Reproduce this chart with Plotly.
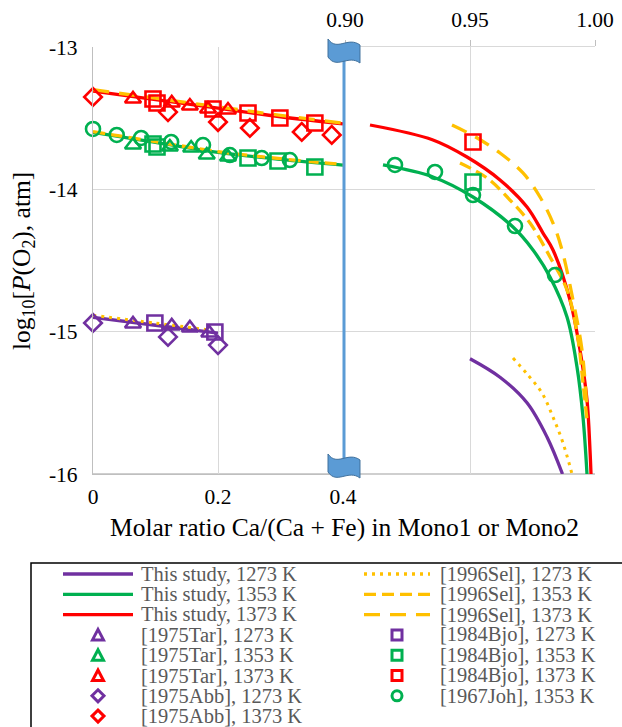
import plotly.graph_objects as go

# ---------------- data ----------------
# This study (model curves)
ts1273_xl = [0.0, 0.1, 0.2]
ts1273_yl = [-14.90, -14.955, -15.01]
ts1273_xr = [0.9500, 0.962, 0.9728, 0.9808, 0.9870]
ts1273_yr = [-15.19, -15.32, -15.50, -15.74, -16.0]

ts1353_xl = [0.0, 0.1, 0.2, 0.3, 0.4]
ts1353_yl = [-13.60, -13.67, -13.74, -13.79, -13.83]
ts1353_xr = [0.9152, 0.9352, 0.9512, 0.9672, 0.9752, 0.982, 0.9888, 0.9928, 0.9952, 0.9968]
ts1353_yr = [-13.829, -13.913, -14.054, -14.265, -14.426, -14.616, -14.897, -15.248, -15.600, -16.0]

ts1373_xl = [0.0, 0.1, 0.2, 0.3, 0.4]
ts1373_yl = [-13.31, -13.37, -13.43, -13.49, -13.54]
ts1373_xr = [0.910, 0.9352, 0.9488, 0.962, 0.9728, 0.9792, 0.9832, 0.99, 0.994, 0.9968, 0.998, 0.9984]
ts1373_yr = [-13.548, -13.653, -13.773, -13.934, -14.124, -14.307, -14.426, -14.778, -15.129, -15.480, -15.832, -16.0]

# [1996Sel] curves
sel1273_xl = [0.0, 0.1, 0.19]
sel1273_yl = [-14.885, -14.94, -14.99]
sel1273_xr = [0.9672, 0.9732, 0.9788, 0.9832, 0.9872, 0.9908]
sel1273_yr = [-15.185, -15.305, -15.431, -15.600, -15.782, -16.0]

sel1353_xl = [0.0, 0.1, 0.2, 0.3, 0.4]
sel1353_yl = [-13.595, -13.665, -13.735, -13.785, -13.825]
sel1353_xr = [0.946, 0.9568, 0.966, 0.974, 0.982, 0.9888, 0.9928, 0.9952, 0.9968]
sel1353_yr = [-13.815, -13.92, -14.075, -14.237, -14.475, -14.707, -15.009, -15.36, -15.62]

sel1373_xl = [0.0, 0.1, 0.2, 0.3, 0.4]
sel1373_yl = [-13.30, -13.36, -13.42, -13.48, -13.535]
sel1373_xr = [0.9428, 0.952, 0.962, 0.9712, 0.978, 0.9832, 0.9868, 0.9912, 0.9948, 0.9968]
sel1373_yr = [-13.548, -13.63, -13.745, -13.885, -14.054, -14.237, -14.426, -14.778, -15.129, -15.55]

# experimental points
tar1273_x = [0.064, 0.126, 0.155, 0.186]
tar1273_y = [-14.946, -14.960, -14.974, -15.009]
tar1353_x = [0.064, 0.123, 0.157, 0.182, 0.216]
tar1353_y = [-13.689, -13.703, -13.710, -13.759, -13.773]
tar1373_x = [0.064, 0.126, 0.155, 0.184, 0.216]
tar1373_y = [-13.365, -13.393, -13.415, -13.436, -13.443]

abb1273_x = [0.0, 0.12, 0.2]
abb1273_y = [-14.939, -15.037, -15.094]
abb1373_x = [0.0, 0.12, 0.2, 0.251, 0.334, 0.382]
abb1373_y = [-13.351, -13.457, -13.527, -13.569, -13.597, -13.618]

bjo1273_x = [0.099, 0.195]
bjo1273_y = [-14.939, -15.002]
bjo1353_xl = [0.096, 0.1024, 0.248, 0.296, 0.355]
bjo1353_yl = [-13.682, -13.703, -13.780, -13.801, -13.843]
bjo1353_xr = [0.9512]
bjo1353_yr = [-13.948]
bjo1373_xl = [0.096, 0.1024, 0.192, 0.248, 0.299, 0.355]
bjo1373_yl = [-13.365, -13.393, -13.436, -13.464, -13.499, -13.534]
bjo1373_xr = [0.9512]
bjo1373_yr = [-13.667]

joh1353_xl = [0.0, 0.038, 0.077, 0.125, 0.176, 0.219, 0.270, 0.315]
joh1353_yl = [-13.576, -13.618, -13.639, -13.667, -13.689, -13.759, -13.780, -13.794]
joh1353_xr = [0.92, 0.936, 0.9512, 0.968, 0.984]
joh1353_yr = [-13.829, -13.878, -14.040, -14.258, -14.602]

# axis ticks
left_ticks = [0, 0.2, 0.4]
left_ticktext = ["0", "0.2", "0.4"]
right_ticks = [0.90, 0.95, 1.00]
right_ticktext = ["0.90", "0.95", "1.00"]
y_ticks = [-13, -14, -15, -16]
y_ticktext = ["-13", "-14", "-15", "-16"]

legend_col1 = ["This study, 1273 K", "This study, 1353 K", "This study, 1373 K",
               "[1975Tar], 1273 K", "[1975Tar], 1353 K", "[1975Tar], 1373 K",
               "[1975Abb], 1273 K", "[1975Abb], 1373 K"]
legend_col2 = ["[1996Sel], 1273 K", "[1996Sel], 1353 K", "[1996Sel], 1373 K",
               "[1984Bjo], 1273 K", "[1984Bjo], 1353 K", "[1984Bjo], 1373 K",
               "[1967Joh], 1353 K"]

# ---------------- styles ----------------
PURPLE = "#7030a0"
GREEN = "#00b050"
RED = "#ff0000"
ORANGE = "#ffc000"
BLUE = "#5b9bd5"
FONT = "Liberation Serif"
DOT = "3px,5px"
SDASH = "12px,6px"
LDASH = "16px,10px"

fig = go.Figure()


def line(x, y, color, dash="solid", axis="x", width=3.3):
    fig.add_trace(go.Scatter(x=x, y=y, mode="lines", xaxis=axis, yaxis="y",
                             line=dict(color=color, width=width, dash=dash,
                                       shape="spline", smoothing=1.0),
                             hoverinfo="skip", showlegend=False))


def marks(x, y, color, symbol, axis="x", size=14):
    fig.add_trace(go.Scatter(x=x, y=y, mode="markers", xaxis=axis, yaxis="y",
                             marker=dict(symbol=symbol, size=size, color=color,
                                         line=dict(color=color, width=2.6)),
                             cliponaxis=False, hoverinfo="skip", showlegend=False))


# model curves
line(ts1273_xl, ts1273_yl, PURPLE)
line(ts1353_xl, ts1353_yl, GREEN)
line(ts1373_xl, ts1373_yl, RED)
line(ts1273_xr, ts1273_yr, PURPLE, axis="x2")
line(ts1353_xr, ts1353_yr, GREEN, axis="x2")
line(ts1373_xr, ts1373_yr, RED, axis="x2")
line(sel1273_xl, sel1273_yl, ORANGE, DOT, width=3)
line(sel1353_xl, sel1353_yl, ORANGE, SDASH)
line(sel1373_xl, sel1373_yl, ORANGE, LDASH)
line(sel1273_xr, sel1273_yr, ORANGE, DOT, axis="x2", width=3)
line(sel1353_xr, sel1353_yr, ORANGE, SDASH, axis="x2")
line(sel1373_xr, sel1373_yr, ORANGE, LDASH, axis="x2")

# points
marks(tar1273_x, tar1273_y, PURPLE, "triangle-up-open")
marks(tar1353_x, tar1353_y, GREEN, "triangle-up-open")
marks(tar1373_x, tar1373_y, RED, "triangle-up-open")
marks(abb1273_x, abb1273_y, PURPLE, "diamond-open", size=13.5)
marks(abb1373_x, abb1373_y, RED, "diamond-open", size=13.5)
marks(bjo1273_x, bjo1273_y, PURPLE, "square-open", size=15)
marks(bjo1353_xl, bjo1353_yl, GREEN, "square-open", size=15)
marks(bjo1373_xl, bjo1373_yl, RED, "square-open", size=15)
marks(bjo1353_xr, bjo1353_yr, GREEN, "square-open", axis="x2", size=15)
marks(bjo1373_xr, bjo1373_yr, RED, "square-open", axis="x2", size=15)
marks(joh1353_xl, joh1353_yl, GREEN, "circle-open")
marks(joh1353_xr, joh1353_yr, GREEN, "circle-open", axis="x2")

# ---------------- layout geometry ----------------
L, T, W, H = 93, 47, 502, 427
FIG_W, FIG_H = 622, 727


def px(x):
    return (x - L) / W


def py(y):
    return (T + H - y) / H


def path(cmds):
    out = []
    for c in cmds:
        if isinstance(c, str):
            out.append(c)
        else:
            out.append(f"{px(c[0]):.5f},{py(c[1]):.5f}")
    return " ".join(out)


shapes = []
# bottom border line
shapes.append(dict(type="line", xref="paper", yref="paper", x0=px(L), x1=px(L + W),
                   y0=0, y1=0, line=dict(color="#bfbfbf", width=1.5), layer="below"))
# break line
shapes.append(dict(type="line", xref="paper", yref="paper", x0=px(344), x1=px(344),
                   y0=py(60), y1=py(460), line=dict(color=BLUE, width=3)))


def flag(y0):
    return path(["M", (328, y0 + 2), "C", (337, y0 + 15), (348, y0 - 1), (360, y0 + 8),
                 "L", (360, y0 + 26), "C", (348, y0 + 17), (337, y0 + 33), (328, y0 + 20), "Z"])


for fy in (37, 452):
    shapes.append(dict(type="path", xref="paper", yref="paper", path=flag(fy),
                       fillcolor=BLUE, line=dict(color="#41719c", width=1)))

# legend box
shapes.append(dict(type="rect", xref="paper", yref="paper", x0=px(31), x1=px(650),
                   y0=py(563), y1=py(780), line=dict(color="black", width=1.5),
                   fillcolor="rgba(0,0,0,0)"))

annotations = []
rows = [574 + 20.3 * i for i in range(8)]
C1_SYM, C1_TXT = 98, 139
C2_SYM, C2_TXT = 397, 438


def leg_line(cx, half, cy, color, dash):
    shapes.append(dict(type="line", xref="paper", yref="paper", x0=px(cx - half), x1=px(cx + half),
                       y0=py(cy), y1=py(cy), line=dict(color=color, width=3.3, dash=dash)))


def leg_mark(cx, cy, color, kind):
    lw = dict(color=color, width=3)
    if kind == "tri":
        p = path(["M", (cx - 5.5, cy + 5), "L", (cx + 5.5, cy + 5), "L", (cx, cy - 5.5), "Z"])
        shapes.append(dict(type="path", xref="paper", yref="paper", path=p, line=lw))
    elif kind == "dia":
        p = path(["M", (cx, cy - 6), "L", (cx + 6, cy), "L", (cx, cy + 6), "L", (cx - 6, cy), "Z"])
        shapes.append(dict(type="path", xref="paper", yref="paper", path=p, line=lw))
    elif kind == "sq":
        shapes.append(dict(type="rect", xref="paper", yref="paper", x0=px(cx - 5), x1=px(cx + 5),
                           y0=py(cy + 5), y1=py(cy - 5), line=lw))
    elif kind == "cir":
        shapes.append(dict(type="circle", xref="paper", yref="paper", x0=px(cx - 5), x1=px(cx + 5),
                           y0=py(cy + 5), y1=py(cy - 5), line=lw))


col1_glyphs = [("line", PURPLE, "solid"), ("line", GREEN, "solid"), ("line", RED, "solid"),
               ("tri", PURPLE, None), ("tri", GREEN, None), ("tri", RED, None),
               ("dia", PURPLE, None), ("dia", RED, None)]
col2_glyphs = [("line", ORANGE, DOT), ("line", ORANGE, SDASH), ("line", ORANGE, LDASH),
               ("sq", PURPLE, None), ("sq", GREEN, None), ("sq", RED, None),
               ("cir", GREEN, None)]

for (txt, g, cy) in zip(legend_col1, col1_glyphs, rows):
    if g[0] == "line":
        leg_line(C1_SYM, 35, cy, g[1], g[2])
    else:
        leg_mark(C1_SYM, cy, g[1], g[0])
    annotations.append(dict(xref="paper", yref="paper", x=px(C1_TXT), y=py(cy), text=txt,
                            xanchor="left", yanchor="middle", showarrow=False,
                            font=dict(family=FONT, size=20.5, color="#595959")))
for (txt, g, cy) in zip(legend_col2, col2_glyphs, rows):
    if g[0] == "line":
        leg_line(C2_SYM, 33, cy, g[1], g[2])
    else:
        leg_mark(C2_SYM, cy, g[1], g[0])
    annotations.append(dict(xref="paper", yref="paper", x=px(C2_TXT), y=py(cy), text=txt,
                            xanchor="left", yanchor="middle", showarrow=False,
                            font=dict(family=FONT, size=20.5, color="#595959")))

# axis titles
annotations.append(dict(xref="paper", yref="paper", x=px(344), y=py(527),
                        text="Molar ratio Ca/(Ca + Fe) in Mono1 or Mono2",
                        xanchor="center", yanchor="middle", showarrow=False,
                        font=dict(family=FONT, size=25.5, color="black")))
annotations.append(dict(xref="paper", yref="paper", x=px(23), y=py(261),
                        text="log<sub>10</sub>[<i>P</i>(O<sub>2</sub>), atm]", textangle=-90,
                        xanchor="center", yanchor="middle", showarrow=False,
                        font=dict(family=FONT, size=25.5, color="black")))

tickfont = dict(family=FONT, size=21.5, color="black")
GRID = "#d9d9d9"

fig.update_layout(
    width=FIG_W, height=FIG_H,
    font=dict(family=FONT),
    margin=dict(l=L, r=FIG_W - L - W, t=T, b=FIG_H - T - H, autoexpand=False),
    plot_bgcolor="white", paper_bgcolor="white", showlegend=False,
    xaxis=dict(domain=[0, 250 / W], range=[0, 0.4], anchor="y",
               tickvals=left_ticks, ticktext=left_ticktext, tickfont=tickfont,
               showgrid=True, gridcolor=GRID, gridwidth=1.3, zeroline=False,
               showline=True, linecolor="#bfbfbf", linewidth=1.3, ticks="",
               ticklabelstandoff=3),
    xaxis2=dict(domain=[252 / W, 1], range=[0.9, 1.0], anchor="y", side="top",
                tickvals=right_ticks, ticktext=right_ticktext, tickfont=tickfont,
                showgrid=True, gridcolor=GRID, gridwidth=1.3, zeroline=False,
                showline=True, linecolor=GRID, linewidth=1.3,
                ticks="outside", ticklen=6, tickcolor="#bfbfbf", tickwidth=1.3,
                ticklabelstandoff=4),
    yaxis=dict(domain=[0, 1], range=[-16, -13], anchor="x",
               tickvals=y_ticks, ticktext=y_ticktext, tickfont=tickfont,
               showgrid=True, gridcolor=GRID, gridwidth=1.3, zeroline=False,
               showline=True, linecolor="#bfbfbf", linewidth=1.3, ticks="",
               ticklabelstandoff=10),
    shapes=shapes,
    annotations=annotations,
)

fig.write_html("out.html")
